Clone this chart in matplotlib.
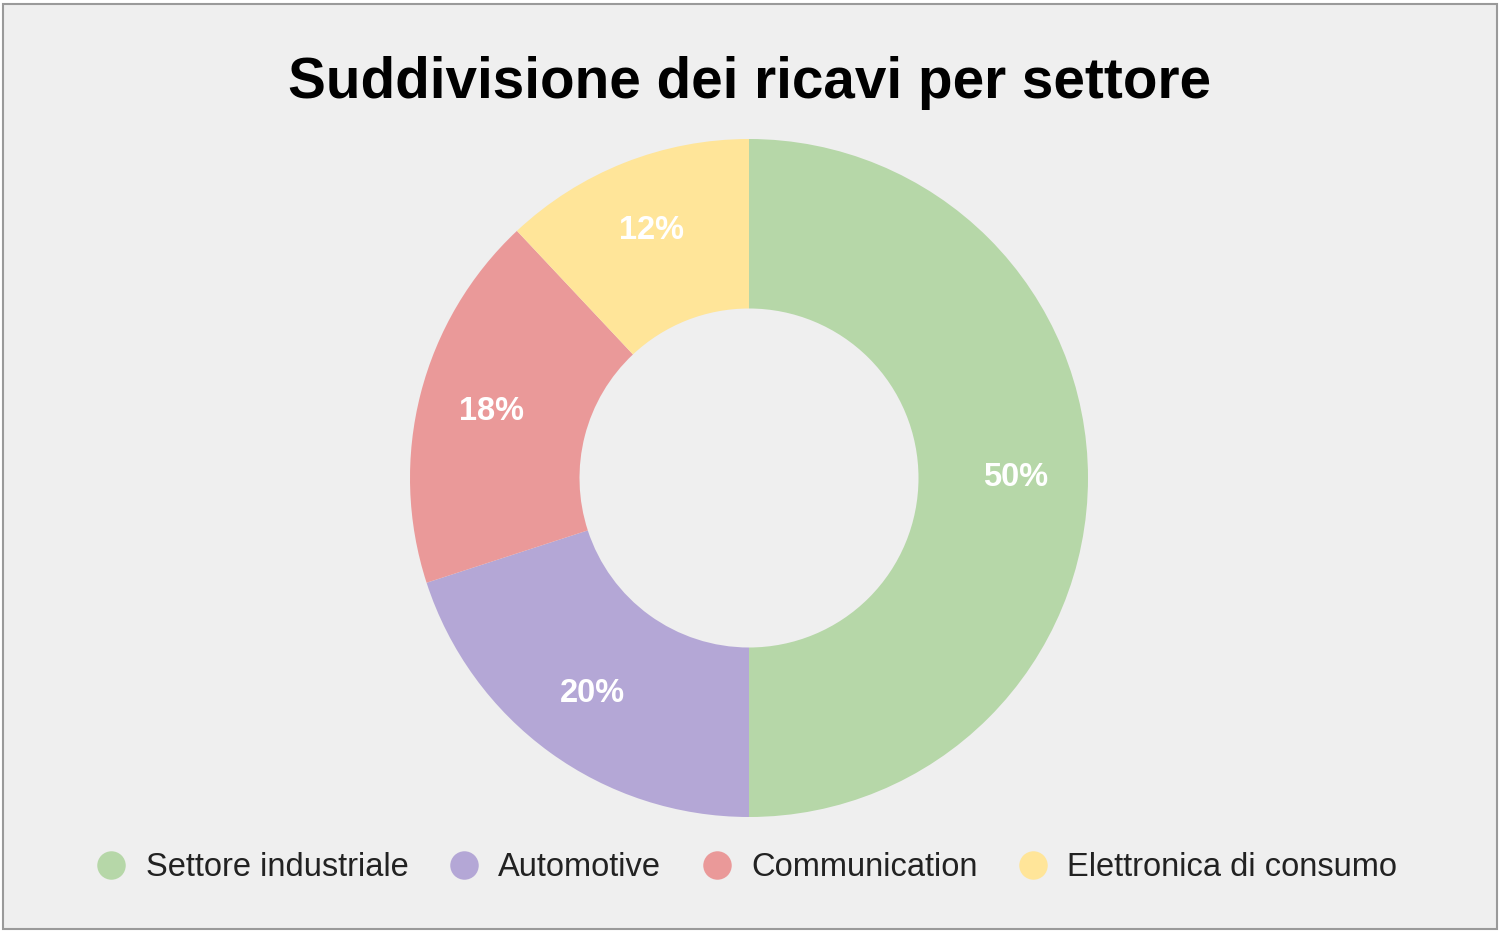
import matplotlib
matplotlib.use('Agg')
import matplotlib.pyplot as plt
from matplotlib.patches import Rectangle
from matplotlib.lines import Line2D

plt.rcParams['font.family'] = ['Liberation Sans', 'DejaVu Sans']

# data
sectors = ['Settore industriale', 'Automotive', 'Communication', 'Elettronica di consumo']
shares = [50, 20, 18, 12]
colors = ['#b6d7a8', '#b4a7d6', '#ea9999', '#ffe599']
title = 'Suddivisione dei ricavi per settore'

W, H = 1500, 933
fig = plt.figure(figsize=(W / 100, H / 100), dpi=100, facecolor='white')

# chart card background with grey border
fig.patches.append(Rectangle((3 / W, 1 - 929 / H), 1494 / W, 925 / H,
                             transform=fig.transFigure, facecolor='#efefef',
                             edgecolor='#9a9a9a', linewidth=1.5, zorder=-5))

# donut
cx, cy, r = 749, 478, 339
ax = fig.add_axes([(cx - r) / W, 1 - (cy + r) / H, 2 * r / W, 2 * r / H])
ax.set_facecolor('none')
wedges, texts, autotexts = ax.pie(
    shares, colors=colors, startangle=90, counterclock=False, radius=1,
    autopct='%d%%', pctdistance=0.785,
    wedgeprops=dict(width=0.5, linewidth=0),
    textprops=dict(color='white', fontsize=23.5, fontweight='bold'))
ax.set_xlim(-1, 1)
ax.set_ylim(-1, 1)
ax.axis('off')

fig.text(749 / W, 1 - 83 / H, title, ha='center', va='center',
         fontsize=40.8, fontweight='bold', color='black')

handles = [Line2D([], [], linestyle='none', marker='o', markersize=20.5,
                  markerfacecolor=c, markeredgewidth=0) for c in colors]
fig.legend(handles, sectors, loc='center', bbox_to_anchor=(747 / W, 1 - 868 / H),
           ncol=4, frameon=False, fontsize=23.5, handlelength=0.9,
           handletextpad=0.6, columnspacing=1.25, labelcolor='#222222')

fig.savefig('out.png', dpi=100, facecolor='white')
